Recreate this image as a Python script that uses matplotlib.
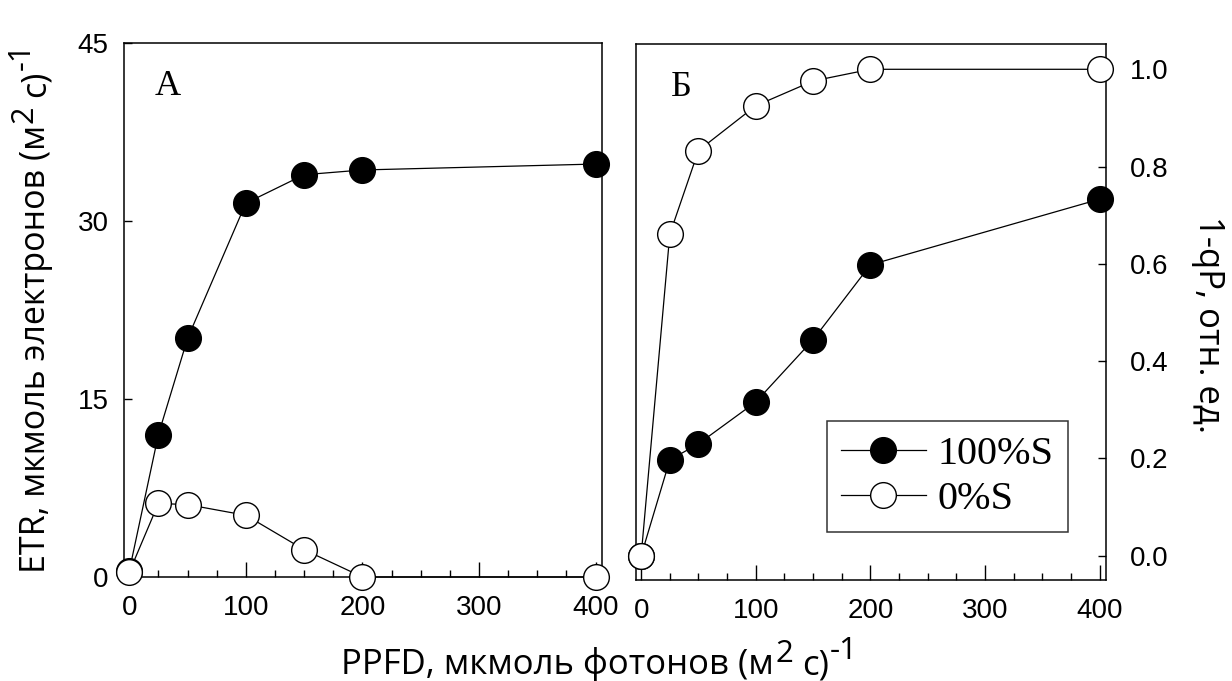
import matplotlib
matplotlib.use("Agg")
import matplotlib.pyplot as plt
from matplotlib.ticker import MultipleLocator

# данные
ppfd = [0, 25, 50, 100, 150, 200, 400]
etr_100 = [0.5, 12.0, 20.1, 31.5, 33.9, 34.3, 34.8]
etr_0 = [0.4, 6.2, 6.1, 5.2, 2.3, 0.0, 0.0]
qp_100 = [0.0, 0.197, 0.230, 0.316, 0.444, 0.598, 0.733]
qp_0 = [0.0, 0.661, 0.833, 0.925, 0.976, 1.0, 1.0]
labels = ["100%S", "0%S"]

plt.rcParams['font.family'] = ['Liberation Sans', 'DejaVu Sans']

W, H = 1232, 681
fig = plt.figure(figsize=(W / 100, H / 100), dpi=100)

axA = fig.add_axes([124 / W, 1 - 577 / H, (602 - 124) / W, (577 - 43) / H])
axB = fig.add_axes([636 / W, 1 - 580 / H, (1106 - 636) / W, (580 - 44) / H])

ms = 18.5
lw = 0.9

def draw(ax, y_full, y_empty):
    ax.plot(ppfd, y_full, '-o', color='black', lw=lw, ms=ms, clip_on=False,
            mfc='black', mec='black', label=labels[0], zorder=3)
    ax.plot(ppfd, y_empty, '-o', color='black', lw=lw, ms=ms, clip_on=False,
            mfc='white', mec='black', mew=1.0, label=labels[1], zorder=4)
    ax.set_xlim(-4.5, 405.5)
    ax.xaxis.set_major_locator(MultipleLocator(100))
    ax.xaxis.set_minor_locator(MultipleLocator(25))
    ax.tick_params(axis='x', which='major', direction='in', length=11,
                   width=1, labelsize=20, pad=13)
    ax.tick_params(axis='x', which='minor', direction='in', length=5, width=1)
    for s in ax.spines.values():
        s.set_linewidth(1.1)

draw(axA, etr_100, etr_0)
axA.set_ylim(0, 45)
axA.set_yticks([0, 15, 30, 45])
axA.tick_params(axis='y', direction='in', length=6, width=1,
                labelsize=20, pad=11)
axA.text(0.065, 0.918, "А", transform=axA.transAxes, fontsize=26,
         family='Liberation Serif', ha='left', va='center')

draw(axB, qp_100, qp_0)
axB.set_ylim(-0.05, 1.052)
axB.set_yticks([0.0, 0.2, 0.4, 0.6, 0.8, 1.0])
axB.set_yticklabels(["0.0", "0.2", "0.4", "0.6", "0.8", "1.0"])
axB.yaxis.tick_right()
axB.tick_params(axis='y', direction='in', length=6, width=1,
                labelsize=20, pad=17)
axB.text(0.074, 0.919, "Б", transform=axB.transAxes, fontsize=26,
         family='Liberation Serif', ha='left', va='center')

leg = axB.legend(loc='lower left', bbox_to_anchor=((827 - 636) / 470, (580 - 532) / 536),
                 frameon=True, fancybox=False, edgecolor='black',
                 prop={'family': 'Liberation Serif', 'size': 29},
                 handlelength=2.1, handletextpad=0.3, borderpad=0.35,
                 labelspacing=0.2, borderaxespad=0)
leg.get_frame().set_linewidth(1.1)


# подпись из кусков: (текст, размер, подъём в px, отступ в px)
def rich_label(pieces, x0, y0, rotation=0):
    prev = None
    for s, size, rise, gap in pieces:
        kw = dict(fontsize=size, family='Open Sans', annotation_clip=False,
                  ha='left', va='baseline', rotation=rotation,
                  rotation_mode='anchor', textcoords='offset pixels')
        if rotation == 0:
            if prev is None:
                xy, xyc = (x0, y0 + rise), 'figure pixels'
            else:
                xy, xyc = (1, y0 + rise), (prev, 'figure pixels')
            off = (gap, 0)
        else:
            if prev is None:
                xy, xyc = (x0 - rise, y0), 'figure pixels'
            else:
                xy, xyc = (x0 - rise, 1), ('figure pixels', prev)
            off = (0, gap)
        prev = axA.annotate(s, xy=xy, xycoords=xyc, xytext=off, **kw)


fs = 25
rich_label([("PPFD, мкмоль фотонов (м", fs, 0, 0),
            ("2", fs * 0.9, 12, 2),
            ("с)", fs, 0, 8),
            ("-1", fs * 0.9, 15, 1)], 341, 7)

fs2 = 24.5
rich_label([("ETR, мкмоль электронов (м", fs2, 0, 0),
            ("2", fs2 * 0.9, 12, 2),
            ("с)", fs2, 0, 8),
            ("-1", fs2 * 0.9, 15, 1)], 45, 108, rotation=90)

fig.text(1208 / W, 1 - 325 / H, "1-qP, отн. ед.", rotation=270,
         ha='center', va='center', fontsize=25, family='Open Sans')

fig.savefig("out.png", dpi=100)
